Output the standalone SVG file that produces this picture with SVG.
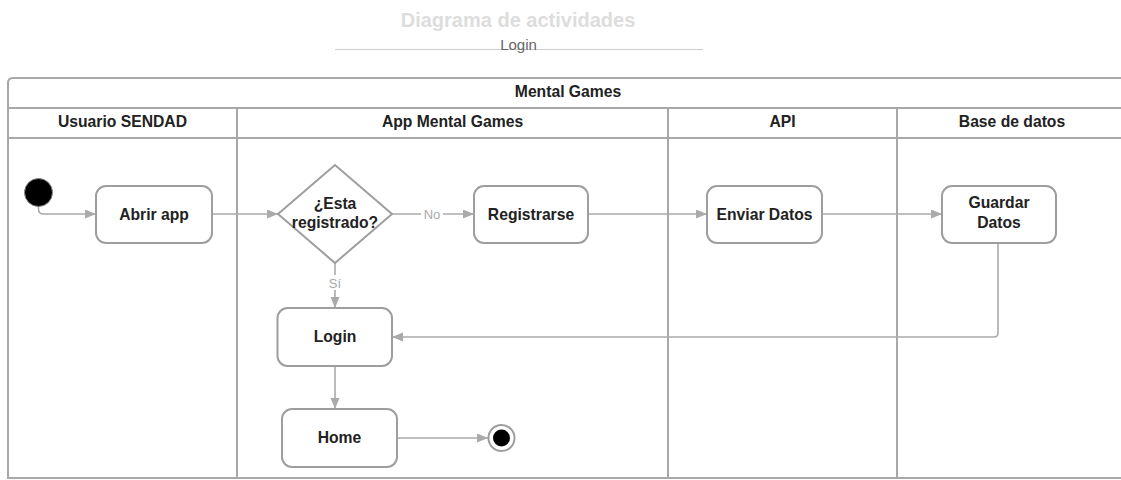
<svg xmlns="http://www.w3.org/2000/svg" width="1121" height="480" viewBox="0 0 1121 480">
<style>
.frame{fill:none;stroke:#a8a8a8;stroke-width:2}
.node{fill:#fff;stroke:#9e9e9e;stroke-width:2}
.lbl{font-family:"Liberation Sans",Arial,sans-serif;font-weight:bold;font-size:15.7px;fill:#222;text-anchor:middle}
.hdr{font-family:"Liberation Sans",Arial,sans-serif;font-weight:bold;font-size:15.7px;fill:#222;text-anchor:middle}
.edge{fill:none;stroke:#aaaaaa;stroke-width:1.6}
.elbl{font-family:"Liberation Sans",Arial,sans-serif;font-size:13px;fill:#aaaaaa;text-anchor:middle}
</style>
<defs>
<marker id="arr" markerUnits="userSpaceOnUse" markerWidth="12" markerHeight="10" refX="11" refY="4.5" orient="auto">
<path d="M0,0 L11,4.5 L0,9 z" fill="#aaaaaa"/>
</marker>
</defs>
<rect width="1121" height="480" fill="#fff"/>
<g id="title">
<text x="518" y="27" font-family="Liberation Sans, Arial, sans-serif" font-weight="bold" font-size="20px" fill="#dddddd" text-anchor="middle">Diagrama de actividades</text>
<line x1="335" y1="49.5" x2="703" y2="49.5" stroke="#cccccc" stroke-width="1.2"/>
<text x="518.5" y="50" font-family="Liberation Sans, Arial, sans-serif" font-size="15px" fill="#666666" text-anchor="middle">Login</text>
</g>
<g id="pool">
<path class="frame" d="M1135,78 L13,78 Q8,78 8,83 L8,478 L1135,478"/>
<line class="frame" x1="8" y1="108" x2="1135" y2="108"/>
<line class="frame" x1="8" y1="138" x2="1135" y2="138"/>
<line class="frame" x1="237" y1="108" x2="237" y2="478"/>
<line class="frame" x1="668" y1="108" x2="668" y2="478"/>
<line class="frame" x1="897" y1="108" x2="897" y2="478"/>
<text class="hdr" x="568" y="97">Mental Games</text>
<text class="hdr" x="122.5" y="126.5">Usuario SENDAD</text>
<text class="hdr" x="452.5" y="126.5">App Mental Games</text>
<text class="hdr" x="782.5" y="126.5">API</text>
<text class="hdr" x="1012" y="126.5">Base de datos</text>
</g>
<g id="connectors">
<path class="edge" d="M38.5,205 L38.5,209 Q38.5,214 43.5,214 L96,214" marker-end="url(#arr)"/>
<path class="edge" d="M212,214 L278,214" marker-end="url(#arr)"/>
<path class="edge" d="M392,214 L474,214" marker-end="url(#arr)"/>
<rect x="421" y="206" width="22" height="15" fill="#fff"/>
<text class="elbl" x="432" y="218.5">No</text>
<path class="edge" d="M588,214 L707,214" marker-end="url(#arr)"/>
<path class="edge" d="M822,214 L942,214" marker-end="url(#arr)"/>
<path class="edge" d="M335,263 L335,308" marker-end="url(#arr)"/>
<rect x="327" y="275" width="16" height="15" fill="#fff"/>
<text class="elbl" x="335" y="288">Sí</text>
<path class="edge" d="M998,243 L998,333 Q998,337 994,337 L392,337" marker-end="url(#arr)"/>
<path class="edge" d="M335,366 L335,409" marker-end="url(#arr)"/>
<path class="edge" d="M397,438 L488,438" marker-end="url(#arr)"/>
</g>
<g id="start">
<circle cx="38.5" cy="192.5" r="14" fill="#000" stroke="#888" stroke-width="1"/>
</g>
<g id="abrir">
<rect class="node" x="96" y="186" width="116" height="57" rx="10"/>
<text class="lbl" x="154" y="220">Abrir app</text>
</g>
<g id="decision">
<path class="node" stroke-linejoin="round" d="M335,165 L392,214 L335,263 L278,214 Z"/>
<text class="lbl" x="335" y="209">¿Esta</text>
<text class="lbl" x="335" y="228">registrado?</text>
</g>
<g id="registrarse">
<rect class="node" x="474" y="186" width="114" height="57" rx="10"/>
<text class="lbl" x="531" y="220">Registrarse</text>
</g>
<g id="enviar">
<rect class="node" x="707" y="186" width="115" height="57" rx="10"/>
<text class="lbl" x="764.5" y="220">Enviar Datos</text>
</g>
<g id="guardar">
<rect class="node" x="942" y="186" width="114" height="57" rx="10"/>
<text class="lbl" x="999" y="208">Guardar</text>
<text class="lbl" x="999" y="228">Datos</text>
</g>
<g id="login">
<rect class="node" x="277.5" y="308" width="114.5" height="58" rx="10"/>
<text class="lbl" x="335" y="342">Login</text>
</g>
<g id="home">
<rect class="node" x="282" y="409" width="115" height="58" rx="10"/>
<text class="lbl" x="339.5" y="443">Home</text>
</g>
<g id="end">
<circle cx="501.5" cy="438" r="13" fill="#fff" stroke="#9e9e9e" stroke-width="2"/>
<circle cx="501.5" cy="438" r="8.5" fill="#000"/>
</g>
</svg>
